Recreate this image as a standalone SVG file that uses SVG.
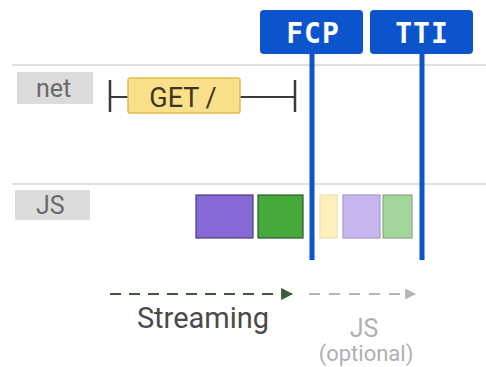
<svg xmlns="http://www.w3.org/2000/svg" width="486" height="367" viewBox="0 0 486 367">
<style>
.lab{fill:#dcdcdc}
.labt{font-family:Roboto,"Liberation Sans",sans-serif;font-size:25px;fill:#6a6a6a}
.mk{fill:#0c54cb}
.mkt{font-family:"DejaVu Sans Mono","Liberation Mono",monospace;font-weight:bold;font-size:28px;fill:#ffffff;text-anchor:middle;letter-spacing:1px}
.ml{stroke:#0c54cb;stroke-width:5}
.row{stroke:#e0e0e0;stroke-width:2}
.blk{stroke-width:1.2}
</style>
<defs>
<marker id="ag" viewBox="0 0 10 10" refX="9" refY="5" markerWidth="5.5" markerHeight="5.5" orient="auto"><path d="M0,0 L10,5 L0,10 z" fill="#3d5a3d"/></marker>
<marker id="al" viewBox="0 0 10 10" refX="9" refY="5" markerWidth="5.5" markerHeight="5.5" orient="auto"><path d="M0,0 L10,5 L0,10 z" fill="#b5b5b5"/></marker>
</defs>
<rect width="486" height="367" fill="#ffffff"/>
<g id="rows">
<line class="row" x1="12" y1="65" x2="486" y2="65"/>
<line class="row" x1="12" y1="184" x2="486" y2="184"/>
</g>
<g id="net-label"><rect class="lab" x="17" y="72" width="76" height="32"/><text class="labt" x="36" y="97">net</text></g>
<g id="js-label"><rect class="lab" x="15" y="190" width="75" height="30"/><text class="labt" x="36" y="214">JS</text></g>
<g id="get">
<line x1="110" y1="97" x2="295" y2="97" stroke="#3a3a3a" stroke-width="2"/>
<line x1="110" y1="80" x2="110" y2="112" stroke="#3a3a3a" stroke-width="2.5"/>
<line x1="295" y1="80" x2="295" y2="112" stroke="#3a3a3a" stroke-width="2.5"/>
<rect x="128" y="78" width="112" height="35" rx="2" fill="#fbe08c" stroke="#e0bd4c" stroke-width="1.5"/>
<text x="183" y="107" text-anchor="middle" font-family="Roboto,'Liberation Sans',sans-serif" font-size="27" fill="#3d3520">GET /</text>
</g>
<g id="js-blocks">
<rect class="blk" x="196" y="195" width="57" height="43" fill="#8669d4" stroke="#4b3b7a"/>
<rect class="blk" x="258" y="195" width="45" height="43" fill="#47a93c" stroke="#2b5a26"/>
<rect class="blk" x="320" y="195" width="17" height="43" fill="#fdf0bd" stroke="#f1e2b0"/>
<rect class="blk" x="343" y="195" width="37" height="43" fill="#c8b7ef" stroke="#a898c8"/>
<rect class="blk" x="383" y="195" width="29" height="43" fill="#a4d59d" stroke="#88ac83"/>
</g>
<g id="connectors">
<line class="ml" x1="312" y1="50" x2="312" y2="260"/>
<line class="ml" x1="422" y1="50" x2="422" y2="260"/>
<line x1="110" y1="294" x2="292" y2="294" stroke="#3d5a3d" stroke-width="2.2" stroke-dasharray="11,8" marker-end="url(#ag)"/>
<line x1="309" y1="294" x2="415" y2="294" stroke="#b5b5b5" stroke-width="2" stroke-dasharray="11,9" marker-end="url(#al)"/>
</g>
<g id="fcp"><rect class="mk" x="260" y="10" width="103" height="44" rx="4"/><text class="mkt" x="313" y="43">FCP</text></g>
<g id="tti"><rect class="mk" x="370" y="10" width="103" height="44" rx="4"/><text class="mkt" x="422" y="43">TTI</text></g>
<g id="labels">
<text x="203" y="328" text-anchor="middle" font-family="Roboto,'Liberation Sans',sans-serif" font-size="29" fill="#4a4a4a">Streaming</text>
<text x="364" y="337" text-anchor="middle" font-family="Roboto,'Liberation Sans',sans-serif" font-size="25" fill="#b0b0b0">JS</text>
<text x="366" y="361" text-anchor="middle" font-family="Roboto,'Liberation Sans',sans-serif" font-size="22" fill="#b0b0b0">(optional)</text>
</g>
</svg>
